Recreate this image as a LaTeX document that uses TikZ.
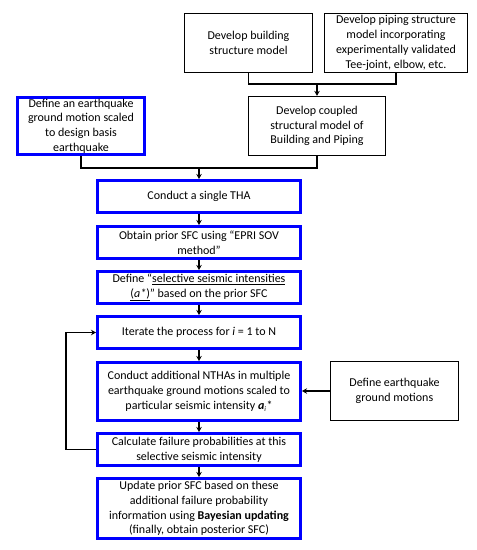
\documentclass[tikz,border=0pt]{standalone}
\usepackage{fontspec}
\setmainfont{Carlito}
\usetikzlibrary{arrows.meta}
\begin{document}
\begin{tikzpicture}[x=1pt,y=-1pt,
  every node/.style={font=\fontsize{12}{14.8}\selectfont, align=center, inner sep=1pt},
  bbox/.style={draw=black, line width=1.3pt, rectangle},
  blbox/.style={draw=blue, line width=3pt, rectangle},
  conn/.style={line width=1.3pt, draw=black},
  arr/.style={conn, -{Stealth[length=5pt,width=5.5pt]}}]
\useasboundingbox (0,0) rectangle (477,550);
\node[bbox, minimum width=128pt, minimum height=59pt] (b1) at (248.5,43) {Develop building\\structure model};
\node[bbox, minimum width=143pt, minimum height=59pt] (b2) at (396,43) {Develop piping structure\\model incorporating\\experimentally validated\\Tee-joint, elbow, etc.};
\node[bbox, minimum width=137pt, minimum height=59pt] (b3) at (317,126) {Develop coupled\\structural model of\\Building and Piping};
\node[blbox, minimum width=127pt, minimum height=57pt] (b0) at (81,126) {Define an earthquake\\ground motion scaled\\to design basis\\earthquake};
\node[blbox, minimum width=203pt, minimum height=32pt] (n1) at (199,196.5) {Conduct a single THA};
\node[blbox, minimum width=203pt, minimum height=32pt] (n2) at (199,242.5) {Obtain prior SFC using “EPRI SOV\\method”};
\node[blbox, minimum width=203pt, minimum height=32pt] (n3) at (199,287.5) {Define “\underline{selective seismic intensities}\\\underline{(\textit{a*})}” based on the prior SFC};
\node[blbox, minimum width=203pt, minimum height=32pt] (n4) at (199,332.5) {Iterate the process for \textit{i} = 1 to N};
\node[blbox, minimum width=203pt, minimum height=58pt] (n5) at (199,391.5) {Conduct additional NTHAs in multiple\\earthquake ground motions scaled to\\particular seismic intensity \textbf{\textit{a}}$_{\textit{\scriptsize i}}$*};
\node[bbox, minimum width=128pt, minimum height=59pt] (g) at (394.5,391) {Define earthquake\\ground motions};
\node[blbox, minimum width=203pt, minimum height=32pt] (n6) at (199,449.5) {Calculate failure probabilities at this\\selective seismic intensity};
\node[blbox, minimum width=203pt, minimum height=60pt] (n7) at (199,508.5) {Update prior SFC based on these\\additional failure probability\\information using \textbf{Bayesian updating}\\(finally, obtain posterior SFC)};
\coordinate (j1) at (317,84);
\coordinate (j2) at (199,168);
\draw[conn] (b1.south) |- (j1) -| (b2.south);
\draw[arr] (j1) -- (b3.north);
\draw[conn] (b0.south) |- (j2) -| (b3.south);
\draw[arr] (j2) -- (n1.north);
\draw[arr] (n1.south) -- (n2.north);
\draw[arr] (n2.south) -- (n3.north);
\draw[arr] (n3.south) -- (n4.north);
\draw[arr] (n4.south) -- (n5.north);
\draw[arr] (n5.south) -- (n6.north);
\draw[arr] (n6.south) -- (n7.north);
\draw[arr] (g.west) -- (n5.east |- g.west);
\coordinate (fb) at (66,449.5);
\draw[arr] (n6.west) -- (fb) |- (n4.west);
\end{tikzpicture}
\end{document}
